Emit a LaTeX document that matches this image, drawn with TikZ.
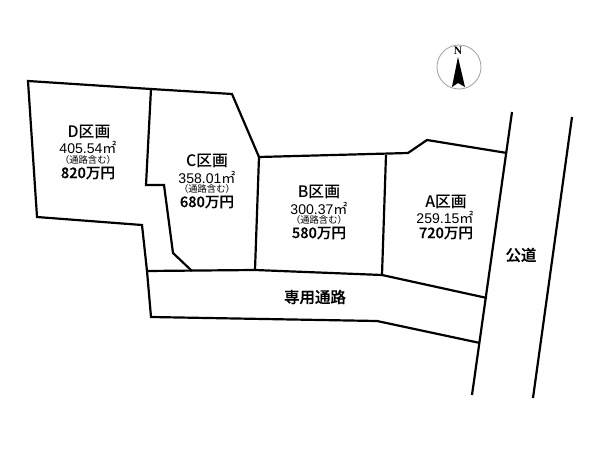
\documentclass[tikz,border=0pt]{standalone}
\usepackage{fontspec}
\setmainfont{Liberation Sans}
\newfontfamily\cjk{Noto Sans CJK JP}
\newfontfamily\cjkm{Noto Sans CJK JP Medium}
\newfontfamily\cjkh[FakeBold=0.4]{Noto Sans CJK JP Medium}
\begin{document}
\begin{tikzpicture}[x=0.02cm, y=-0.02cm, line width=1.25pt, line join=miter]
		\tikzstyle{title} = [font=\fontsize{9}{10}\selectfont\cjkm, inner sep=0pt]
		\tikzstyle{area} = [font=\fontsize{8}{9}\selectfont, inner sep=0pt]
		\tikzstyle{note} = [font=\fontsize{5.3}{6}\selectfont\cjk, inner sep=0pt]
		\tikzstyle{price} = [font=\fontsize{8.3}{9}\selectfont\cjkh, inner sep=0pt]
		\tikzstyle{road} = [font=\fontsize{8.8}{9}\selectfont\cjkh, inner sep=0pt]
		\useasboundingbox (0,0) rectangle (600,450);
		% corners of the lots
		\coordinate (D1) at (28,81);
		\coordinate (D2) at (37,217);
		\coordinate (D3) at (142,225);
		\coordinate (R1) at (147,271);
		\coordinate (R2) at (151,317);
		\coordinate (C1) at (151,89);
		\coordinate (C2) at (232,94);
		\coordinate (C3) at (259,157);
		\coordinate (C4) at (146,185);
		\coordinate (C5) at (164,185);
		\coordinate (C6) at (173,253);
		\coordinate (C7) at (192,271);
		\coordinate (B1) at (255,270);
		\coordinate (B2) at (386,155);
		\coordinate (B3) at (382,275);
		\coordinate (A1) at (408,153);
		\coordinate (A2) at (427,140);
		\coordinate (A3) at (507,153);
		\coordinate (R3) at (487,298);
		\coordinate (R4) at (377,321);
		\coordinate (R5) at (480,343);
		\coordinate (L1) at (512,112);
		\coordinate (L2) at (472,395);
		\coordinate (L3) at (572,117);
		\coordinate (L4) at (533,398);
		% boundaries
		\draw (C1) -- (D1) -- (D2) -- (D3) -- (R1) -- (R2) -- (R4) -- (R5);
		\draw (C3) -- (C2) -- (C1) -- (C4) -- (C5) -- (C6) -- (C7);
		\draw (R1) -- (B1) -- (B3) -- (R3);
		\draw (B1) -- (C3) -- (A1) -- (A2) -- (A3);
		\draw (B2) -- (B3);
		\draw (L1) -- (L2);
		\draw (L3) -- (L4);
		% north mark
		\coordinate (N0) at (459,67);
		\coordinate (N1) at (458,57);
		\coordinate (N2) at (452,87);
		\coordinate (N3) at (458,83);
		\coordinate (N4) at (465,87);
		\draw[gray!70, line width=0.5pt] (N0) circle (22);
		\fill (N1) -- (N2) -- (N3) -- (N4) -- cycle;
		\node[inner sep=0pt, font=\fontsize{6.5}{7}\selectfont\fontspec{Liberation Serif}\bfseries] (north) at (458,51) {N};
		% labels
		\node[title](Dt) at (89,132) {D区画};
		\node[area](Da) at (88,147) {405.54{\cjk ㎡}};
		\node[note](Dn) at (88,160) {（通路含む）};
		\node[price](Dp) at (88,173) {820万円};
		\node[title](Ct) at (207,161) {C区画};
		\node[area](Ca) at (207,177) {358.01{\cjk ㎡}};
		\node[note](Cn) at (207,189) {（通路含む）};
		\node[price](Cp) at (207,202) {680万円};
		\node[title](Bt) at (319,192) {B区画};
		\node[area](Ba) at (319,208) {300.37{\cjk ㎡}};
		\node[note](Bn) at (319,220) {（通路含む）};
		\node[price](Bp) at (319,233) {580万円};
		\node[title](At) at (446,202) {A区画};
		\node[area](Aa) at (445,217) {259.15{\cjk ㎡}};
		\node[price](Ap) at (446,233) {720万円};
		\node[road](private) at (315,297) {専用通路};
		\node[road](public) at (521,255) {公道};
\end{tikzpicture}
\end{document}
